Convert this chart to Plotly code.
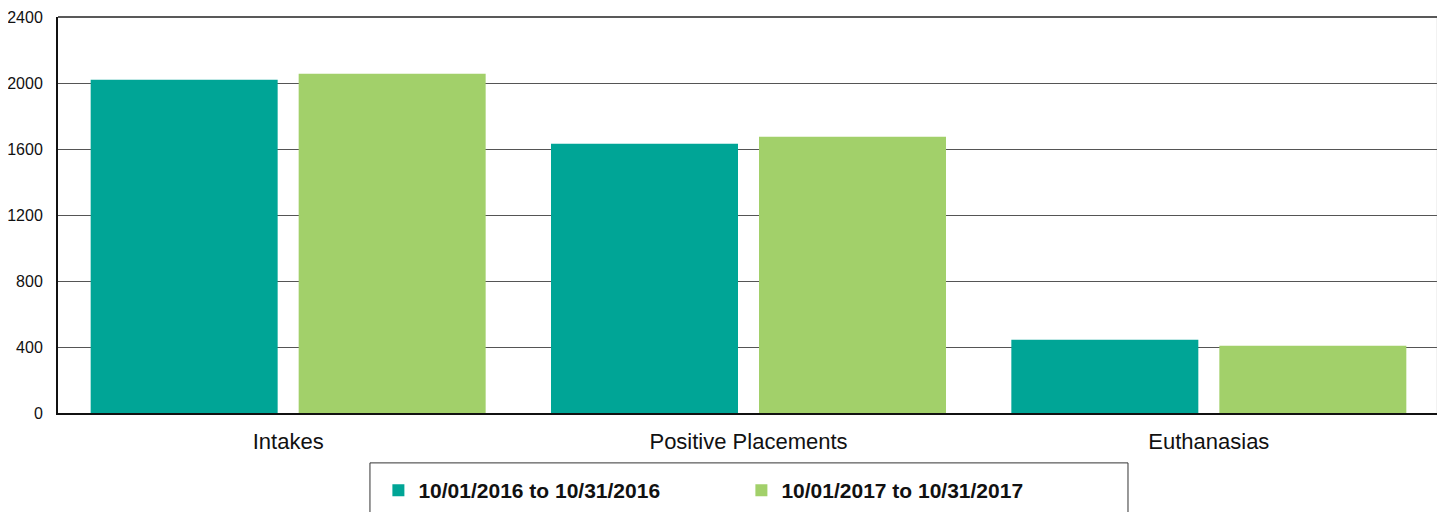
import plotly.graph_objects as go

categories = ["Intakes", "Positive Placements", "Euthanasias"]
series_2016 = [2020, 1632, 444]
series_2017 = [2056, 1675, 408]
name_2016 = "10/01/2016 to 10/31/2016"
name_2017 = "10/01/2017 to 10/31/2017"
y_ticks = [0, 400, 800, 1200, 1600, 2000, 2400]

FONT = "Arial, Liberation Sans, sans-serif"

fig = go.Figure()
fig.add_trace(go.Bar(x=categories, y=series_2016, name=name_2016,
                     marker=dict(color="#00A596", line=dict(width=0))))
fig.add_trace(go.Bar(x=categories, y=series_2017, name=name_2017,
                     marker=dict(color="#A2D06A", line=dict(width=0))))

# page body has an 8px default margin, so the figure is sized to compensate
fig.update_layout(
    width=1437, height=504,
    margin=dict(l=50, r=6, t=9, b=99, autoexpand=False),
    paper_bgcolor="white", plot_bgcolor="white",
    barmode="group", bargap=0.0963, bargroupgap=0.101,
    font=dict(family=FONT, color="#111"),
    showlegend=True,
    legend=dict(orientation="h", x=0.232, y=-0.144, xanchor="left", yanchor="top",
                font=dict(family=FONT, size=21, color="#111", weight="bold"),
                entrywidth=318, entrywidthmode="pixels",
                bgcolor="rgba(0,0,0,0)", borderwidth=0),
    shapes=[
        dict(type="rect", xref="paper", yref="paper", x0=0.2259, x1=0.7748, y0=-0.3, y1=-0.126,
             line=dict(color="#333", width=1), fillcolor="rgba(0,0,0,0)", layer="below"),
        dict(type="line", xref="paper", yref="paper", x0=0.9992, x1=0.9992, y0=0, y1=1,
             line=dict(color="#888", width=2)),
        dict(type="line", xref="paper", yref="paper", x0=0, x1=1, y0=1, y1=1,
             line=dict(color="#222", width=1.5)),
    ],
)

fig.update_xaxes(showline=True, linecolor="#111", linewidth=2, showgrid=False,
                 ticks="", tickfont=dict(size=22, family=FONT, color="#111"),
                 ticklabelstandoff=8, automargin=False)
fig.update_yaxes(range=[0, 2400], tickvals=y_ticks, showline=True, linecolor="#111",
                 linewidth=2, showgrid=True, gridcolor="#555", gridwidth=1,
                 zeroline=False, ticks="", tickfont=dict(size=16, family=FONT, color="#111"),
                 ticklabelstandoff=10, automargin=False)

fig.write_html("out.html")
